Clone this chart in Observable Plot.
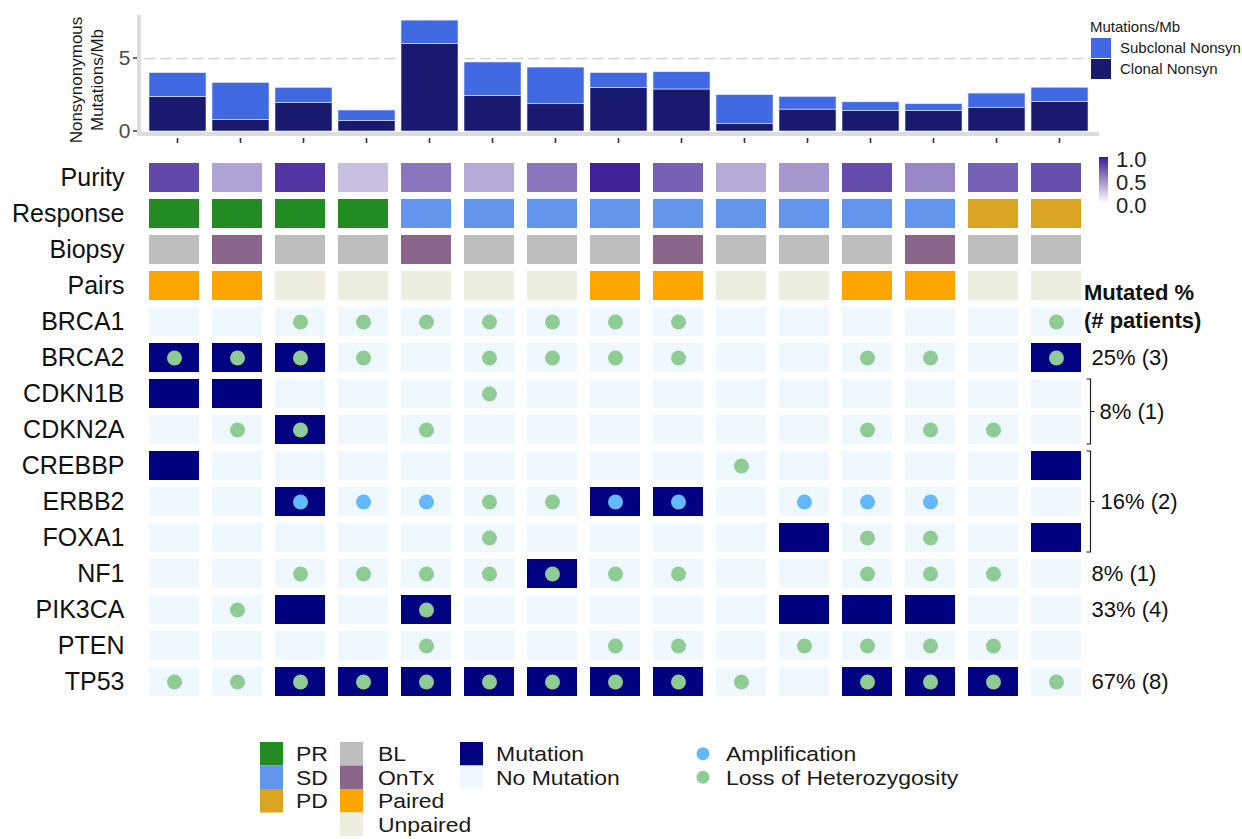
<!DOCTYPE html>
<html><head><meta charset="utf-8">
<script src="https://cdn.jsdelivr.net/npm/d3@7"></script>
<script src="https://cdn.jsdelivr.net/npm/@observablehq/plot@0.6"></script>
<style>
body{margin:0;background:#fff;}
#wrap{position:relative;width:1242px;height:839px;overflow:hidden;background:#fff;font-family:"Liberation Sans",Arial,sans-serif;}
#wrap > svg{position:absolute;left:0;}
</style></head><body><div id="wrap"></div>
<script>
// ---------------- data ----------------
const samples = [1,2,3,4,5,6,7,8,9,10,11,12,13,14,15];
const clonalNonsyn    = [2.37,0.78,1.94,0.71,6.00,2.44,1.87,2.99,2.88,0.50,1.50,1.42,1.42,1.60,2.03];
const subclonalNonsyn = [1.63,2.55,1.05,0.73,1.60,2.29,2.51,1.01,1.18,1.99,0.87,0.58,0.45,1.00,0.97];
const purity   = [0.80,0.40,0.88,0.28,0.60,0.37,0.60,0.97,0.69,0.37,0.45,0.78,0.52,0.69,0.77];
const response = ["PR","PR","PR","PR","SD","SD","SD","SD","SD","SD","SD","SD","SD","PD","PD"];
const biopsy   = ["BL","OnTx","BL","BL","OnTx","BL","BL","BL","OnTx","BL","BL","BL","OnTx","BL","BL"];
const pairs    = ["Paired","Paired","Unpaired","Unpaired","Unpaired","Unpaired","Unpaired","Paired","Paired","Unpaired","Unpaired","Paired","Paired","Unpaired","Unpaired"];
const annotationRows = ["Purity","Response","Biopsy","Pairs"];
const genes = ["BRCA1","BRCA2","CDKN1B","CDKN2A","CREBBP","ERBB2","FOXA1","NF1","PIK3CA","PTEN","TP53"];
const mutatedIn = [[],[1,2,3,15],[1,2],[3],[1,15],[3,8,9],[11,15],[7],[3,5,11,12,13],[],[3,4,5,6,7,8,9,12,13,14]];
const amplifiedIn = [[],[],[],[],[],[3,4,5,8,9,11,12,13],[],[],[],[],[]];
const lohIn = [[3,4,5,6,7,8,9,15],[1,2,3,4,6,7,8,9,12,13,15],[6],[2,3,5,12,13,14],[10],[6,7],[6,12,13],[3,4,5,6,7,8,9,12,13,14],[2,5],[5,8,9,11,12,13,14],[1,2,3,4,5,6,7,8,9,10,12,13,14,15]];
const responseLevels = ["PR","SD","PD"];
const responseColors = ["#228B22","#6495ED","#DAA520"];
const biopsyLevels = ["BL","OnTx"];
const biopsyColors = ["#BEBEBE","#8B668B"];
const pairLevels = ["Paired","Unpaired"];
const pairColors = ["#FFA500","#EEEEE0"];
const mutationLevels = ["Mutation","No Mutation"];
const mutationColors = ["#000080","#F0F8FF"];
const cnvLevels = ["Amplification","Loss of Heterozygosity"];
const cnvColors = ["#63B8FF","#8FCC93"];
const burdenLevels = ["Subclonal Nonsyn","Clonal Nonsyn"];
const burdenColors = ["#4169E1","#191970"];
const purityTicks = [1.0,0.5,0.0];
const singleGenes = ["BRCA2","NF1","PIK3CA","TP53"];
const singleLabels = ["25% (3)","8% (1)","33% (4)","67% (8)"];
const pairGroupGenes = ["CDKN1B","CDKN2A"];
const pairGroupLabel = "8% (1)";
const tripleGroupGenes = ["CREBBP","ERBB2","FOXA1"];
const tripleGroupLabel = "16% (2)";

const FONT = "Liberation Sans, Arial, sans-serif";
const wrap = document.getElementById("wrap");

function scaleFn(sc){
  if (sc && typeof sc.apply === "function") return v => sc.apply(v);
  if (sc.type === "band") return d3.scaleBand(sc.domain, sc.range).paddingInner(sc.paddingInner).paddingOuter(sc.paddingOuter).align(sc.align ?? 0.5);
  return d3.scaleLinear(sc.domain, sc.range);
}

// ---------------- bar chart ----------------
const barData = samples.flatMap((s,i)=>[
  {s, type:"Clonal Nonsyn", v: clonalNonsyn[i]},
  {s, type:"Subclonal Nonsyn", v: subclonalNonsyn[i]}
]);
const barPlot = Plot.plot({
  width:1242, height:150, marginLeft:145, marginRight:151, marginTop:15, marginBottom:19,
  style:{fontFamily:FONT, background:"none"},
  x:{domain:samples, paddingInner:0.1, paddingOuter:0.05, axis:null},
  y:{domain:[0,7.95], axis:null},
  color:{domain:burdenLevels, range:burdenColors},
  marks:[
    Plot.ruleY([5], {stroke:"#d0d0d0", strokeWidth:1.3, strokeDasharray:"10,6"}),
    Plot.barY(barData, {x:"s", y:"v", fill:"type", stroke:"#e8ecf8", strokeWidth:0.6}),
    Plot.text([0,5], {y:d=>d, text:d=>String(d), frameAnchor:"left", textAnchor:"end", dx:-15, fontSize:21, fill:"#4d4d4d"})
  ]
});
barPlot.style.top = "0px";
wrap.appendChild(barPlot);
{
  const xsc = barPlot.scale("x"), ysc = barPlot.scale("y");
  const xs = scaleFn(xsc), ys = scaleFn(ysc);
  const bw = xsc.bandwidth ?? xs.bandwidth();
  const svg = d3.select(barPlot);
  const left = xsc.range[0], right = xsc.range[1];
  const y0 = ys(0);
  const g = svg.insert("g", ":first-child");
  g.append("line").attr("x1", left-6).attr("x2", left-6).attr("y1", ysc.range[1]).attr("y2", y0+5).attr("stroke","#dcdcdc").attr("stroke-width",4);
  g.append("line").attr("x1", left-8).attr("x2", right+8).attr("y1", y0+3).attr("y2", y0+3).attr("stroke","#dcdcdc").attr("stroke-width",4);
  [0,5].forEach(t => svg.append("line").attr("x1", left-12).attr("x2", left-8).attr("y1", ys(t)).attr("y2", ys(t)).attr("stroke","#333").attr("stroke-width",1.5));
  samples.forEach(s => { const cx = xs(s) + bw/2;
    svg.append("line").attr("x1",cx).attr("x2",cx).attr("y1",y0+7).attr("y2",y0+12).attr("stroke","#333").attr("stroke-width",1.6); });
  const t = svg.append("g").attr("font-family",FONT).attr("font-size",17).attr("fill","#1a1a1a").attr("text-anchor","middle");
  t.append("text").attr("transform","translate(76,80) rotate(-90)").attr("dy","0.35em").text("Nonsynonymous");
  t.append("text").attr("transform","translate(97,80) rotate(-90)").attr("dy","0.35em").text("Mutations/Mb");
  const lg = svg.append("g").attr("font-family",FONT).attr("fill","#1a1a1a").attr("text-anchor","start");
  lg.append("text").attr("x",1090).attr("y",27).attr("dy","0.35em").attr("font-size",15).text("Mutations/Mb");
  burdenLevels.forEach((lv,k) => {
    lg.append("rect").attr("x",1091).attr("y",38+k*21).attr("width",20).attr("height",20).attr("fill",burdenColors[k]);
    lg.append("text").attr("x",1120).attr("y",48+k*21).attr("dy","0.35em").attr("font-size",15).text(lv);
  });
}

// ---------------- tile chart ----------------
const rows = annotationRows.concat(genes);
const rowCells = (row, vals) => samples.map((s,i)=>({s, row, v: vals[i]}));
const tileMarks = [
  Plot.cell(rowCells("Purity", purity), {x:"s", y:"row", fill:"v"}),
  ...responseLevels.map((lv,k)=>Plot.cell(rowCells("Response",response).filter(d=>d.v===lv), {x:"s", y:"row", fill:responseColors[k]})),
  ...biopsyLevels.map((lv,k)=>Plot.cell(rowCells("Biopsy",biopsy).filter(d=>d.v===lv), {x:"s", y:"row", fill:biopsyColors[k]})),
  ...pairLevels.map((lv,k)=>Plot.cell(rowCells("Pairs",pairs).filter(d=>d.v===lv), {x:"s", y:"row", fill:pairColors[k]})),
  Plot.cell(genes.flatMap(g=>samples.map(s=>({s,row:g}))), {x:"s", y:"row", fill:mutationColors[1]}),
  Plot.cell(genes.flatMap((g,j)=>mutatedIn[j].map(s=>({s,row:g}))), {x:"s", y:"row", fill:mutationColors[0]}),
  Plot.dot(genes.flatMap((g,j)=>amplifiedIn[j].map(s=>({s,row:g}))), {x:"s", y:"row", r:7.5, fill:cnvColors[0]}),
  Plot.dot(genes.flatMap((g,j)=>lohIn[j].map(s=>({s,row:g}))), {x:"s", y:"row", r:7.5, fill:cnvColors[1]}),
  Plot.text(rows, {y:d=>d, text:d=>d, frameAnchor:"left", textAnchor:"end", dx:-18, fontSize:25, fill:"#111"}),
  Plot.text(singleGenes.map((g,k)=>({g, label:singleLabels[k]})), {y:"g", text:"label", frameAnchor:"right", textAnchor:"start", dx:3, fontSize:22, fill:"#111"}),
  Plot.text([pairGroupGenes[0]], {y:d=>d, text:()=>pairGroupLabel, frameAnchor:"right", textAnchor:"start", dx:11, dy:18, fontSize:22, fill:"#111"}),
  Plot.text([tripleGroupGenes[1]], {y:d=>d, text:()=>tripleGroupLabel, frameAnchor:"right", textAnchor:"start", dx:12, fontSize:22, fill:"#111"}),
  Plot.text(["Pairs"], {y:d=>d, text:()=>"Mutated %", frameAnchor:"right", textAnchor:"start", dx:-4.5, dy:7, fontSize:22, fontWeight:"bold", fill:"#111"}),
  Plot.text(["BRCA1"], {y:d=>d, text:()=>"(# patients)", frameAnchor:"right", textAnchor:"start", dx:-4.5, dy:-1, fontSize:22, fontWeight:"bold", fill:"#111"})
];
const tilePlot = Plot.plot({
  width:1242, height:570, marginLeft:142, marginRight:154, marginTop:17, marginBottom:9,
  style:{fontFamily:FONT, background:"none"},
  x:{domain:samples, paddingInner:0.2, paddingOuter:0.1, axis:null},
  y:{domain:rows, paddingInner:0.2, paddingOuter:0.1, axis:null},
  color:{type:"linear", domain:[0,1], range:["#ffffff","#3a1a95"], interpolate:"rgb"},
  marks: tileMarks
});
tilePlot.style.top = "140px";
wrap.appendChild(tilePlot);
{
  const xsc = tilePlot.scale("x"), ysc = tilePlot.scale("y");
  const ys = scaleFn(ysc);
  const bh = ysc.bandwidth ?? ys.bandwidth();
  const right = xsc.range[1];
  const svg = d3.select(tilePlot);
  // brackets
  [pairGroupGenes, tripleGroupGenes].forEach(gs => {
    const top = ys(gs[0]), bot = ys(gs[gs.length-1]) + bh, mid = (top+bot)/2, x = right + 2.5;
    svg.append("path").attr("d", `M${x-4},${top}H${x}V${bot}H${x-4}M${x},${mid}H${x+4}`)
      .attr("fill","none").attr("stroke","#222").attr("stroke-width",1.2);
  });
  // purity colorbar
  const csc = tilePlot.scale("color");
  const interp = d3.interpolateRgb(csc.range ? csc.range[0] : "#ffffff", csc.range ? csc.range[1] : "#3a1a95");
  const defs = svg.append("defs");
  const grad = defs.append("linearGradient").attr("id","purgrad").attr("x1",0).attr("x2",0).attr("y1",1).attr("y2",0);
  d3.range(0,1.01,0.1).forEach(t => grad.append("stop").attr("offset",t).attr("stop-color",interp(t)));
  const cbTop = 17, cbH = 46;
  svg.append("rect").attr("x",1099).attr("y",cbTop).attr("width",9).attr("height",cbH).attr("fill","url(#purgrad)");
  const cb = d3.scaleLinear([0,1],[cbTop+cbH+2, cbTop+2]);
  purityTicks.forEach(v => svg.append("text").attr("x",1116).attr("y",cb(v)).attr("dy","0.35em").attr("text-anchor","start")
    .attr("font-family",FONT).attr("font-size",22).attr("fill","#222").text(v.toFixed(1)));
}

// ---------------- bottom legend ----------------
{
  const svg = d3.select(wrap).append("svg").attr("width",1242).attr("height",139).style("top","700px");
  const g = svg.append("g").attr("font-family",FONT).attr("font-size",20.5).attr("fill","#1a1a1a");
  const rowH = 23.5, y0 = 42;
  const label = (x, y, txt) => {
    const el = g.append("text").attr("x",x).attr("y",y).attr("dy","0.36em").text(txt);
    const w = el.node().getComputedTextLength();
    if (w > 0) el.attr("textLength", w*1.12).attr("lengthAdjust","spacingAndGlyphs");
  };
  const col = (x, tx, levels, colors) => levels.forEach((lv,k) => {
    g.append("rect").attr("x",x).attr("y",y0+k*rowH).attr("width",23).attr("height",rowH).attr("fill",colors[k]);
    label(tx, y0+k*rowH+rowH/2, lv);
  });
  col(260, 296, responseLevels, responseColors);
  col(340, 378, biopsyLevels.concat(pairLevels), biopsyColors.concat(pairColors));
  col(460, 496, mutationLevels, mutationColors);
  cnvLevels.forEach((lv,k) => {
    g.append("circle").attr("cx",703).attr("cy",y0+k*rowH+rowH/2).attr("r",6.5).attr("fill",cnvColors[k]);
    label(726, y0+k*rowH+rowH/2, lv);
  });
}
</script>
</body></html>
